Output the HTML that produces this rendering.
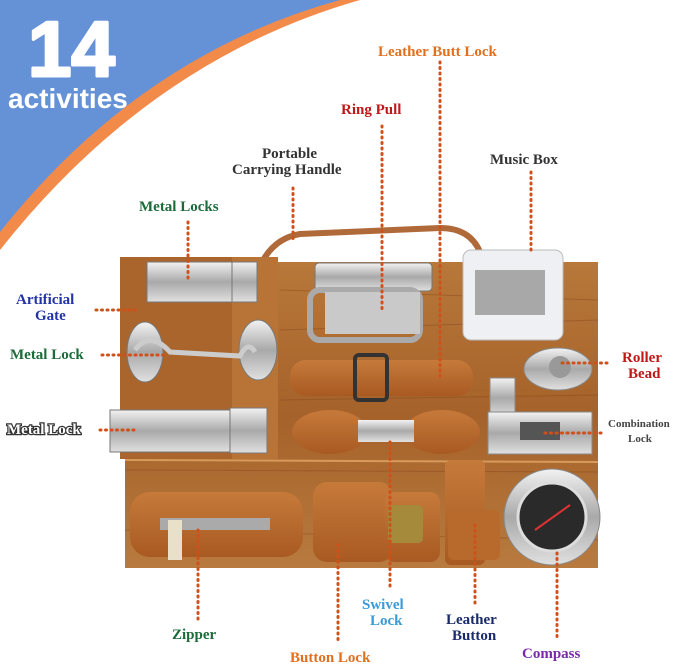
<!DOCTYPE html>
<html><head><meta charset="utf-8"><style>
html,body{margin:0;padding:0;background:#fff}
svg{display:block}
text{font-family:"Liberation Serif",serif;font-weight:bold}
</style></head><body>
<svg width="679" height="664" viewBox="0 0 679 664" xmlns="http://www.w3.org/2000/svg">
<defs>
<linearGradient id="wood" x1="0" y1="0" x2="0" y2="1">
<stop offset="0" stop-color="#b8783a"/><stop offset="0.5" stop-color="#a5622a"/><stop offset="1" stop-color="#b87a3e"/>
</linearGradient>
<linearGradient id="metal" x1="0" y1="0" x2="0" y2="1">
<stop offset="0" stop-color="#f2f2f2"/><stop offset="0.5" stop-color="#a9a9a9"/><stop offset="1" stop-color="#e0e0e0"/>
</linearGradient>
<linearGradient id="leather" x1="0" y1="0" x2="0" y2="1">
<stop offset="0" stop-color="#c67a3a"/><stop offset="1" stop-color="#a85a22"/>
</linearGradient>
</defs>
<path d="M0 0 L360 0 Q150 60 0 250 Z" fill="#f28a4a"/>
<path d="M0 0 L340 0 Q140 55 0 232 Z" fill="#6592d6"/>
<text x="28" y="76" font-size="78" fill="#fff" stroke="#fff" stroke-width="3" stroke-linejoin="round" style="font-family:'Liberation Sans',sans-serif;font-weight:bold">14</text>
<text x="8" y="108" fill="#fff" font-size="28" style="font-family:'Liberation Sans',sans-serif;font-weight:bold">activities</text>

<path d="M262 262 Q275 238 300 234 L440 228 Q470 228 480 252" fill="none" stroke="#b06a3a" stroke-width="6"/>
<rect x="125" y="262" width="473" height="306" fill="url(#wood)"/>
<g stroke="#8a4a1c" stroke-width="1" opacity="0.5">
<line x1="280" y1="290" x2="598" y2="300"/><line x1="280" y1="330" x2="598" y2="320"/>
<line x1="280" y1="400" x2="598" y2="395"/><line x1="125" y1="470" x2="598" y2="472"/>
<line x1="125" y1="530" x2="598" y2="540"/>
</g>
<rect x="120" y="257" width="158" height="202" fill="#a9652c"/>
<rect x="232" y="257" width="46" height="202" fill="#b87437"/>
<line x1="125" y1="460" x2="598" y2="462" stroke="#d89a5a" stroke-width="2"/>

<rect x="147" y="262" width="85" height="40" fill="url(#metal)" stroke="#777"/>
<rect x="232" y="262" width="25" height="40" fill="url(#metal)" stroke="#777"/>
<ellipse cx="145" cy="352" rx="18" ry="30" fill="url(#metal)" stroke="#777"/>
<ellipse cx="258" cy="350" rx="19" ry="30" fill="url(#metal)" stroke="#777"/>
<path d="M135 350 Q150 330 170 352 L240 356 Q248 340 255 352" fill="none" stroke="#ccc" stroke-width="5"/>
<rect x="110" y="410" width="120" height="42" fill="url(#metal)" stroke="#777"/>
<rect x="230" y="408" width="37" height="45" fill="url(#metal)" stroke="#777"/>
<rect x="315" y="263" width="117" height="28" rx="4" fill="url(#metal)" stroke="#777"/>
<rect x="310" y="290" width="110" height="50" rx="10" fill="none" stroke="#aaa" stroke-width="6"/>
<rect x="325" y="292" width="95" height="42" fill="#c9c9c9"/>
<rect x="463" y="250" width="100" height="90" rx="8" fill="#eef0f3" stroke="#bbb"/>
<rect x="475" y="270" width="70" height="45" fill="#a8a8a8"/>
<ellipse cx="558" cy="369" rx="34" ry="21" fill="url(#metal)" stroke="#888"/>
<circle cx="560" cy="367" r="11" fill="#999"/>
<rect x="490" y="378" width="25" height="40" fill="url(#metal)" stroke="#888"/>
<rect x="488" y="412" width="104" height="42" fill="url(#metal)" stroke="#888"/>
<rect x="520" y="422" width="40" height="18" fill="#555"/>
<circle cx="552" cy="517" r="48" fill="url(#metal)" stroke="#888"/>
<circle cx="552" cy="517" r="34" fill="#2a2a2a" stroke="#ddd" stroke-width="3"/>
<path d="M535 530 L570 505" stroke="#d33" stroke-width="2"/>

<rect x="290" y="360" width="183" height="36" rx="16" fill="url(#leather)"/>
<rect x="355" y="355" width="32" height="45" rx="4" fill="none" stroke="#333" stroke-width="4"/>
<ellipse cx="330" cy="432" rx="38" ry="22" fill="url(#leather)"/>
<ellipse cx="442" cy="432" rx="38" ry="22" fill="url(#leather)"/>
<rect x="358" y="420" width="56" height="22" fill="url(#metal)"/>
<rect x="130" y="492" width="173" height="65" rx="20" fill="url(#leather)"/>
<rect x="160" y="518" width="110" height="12" fill="#aaa"/>
<rect x="168" y="520" width="14" height="40" fill="#e8e0c8"/>
<rect x="313" y="482" width="80" height="80" rx="14" fill="url(#leather)"/>
<rect x="385" y="492" width="55" height="70" rx="10" fill="url(#leather)"/>
<rect x="388" y="505" width="35" height="38" rx="5" fill="#a48a3a"/>
<rect x="445" y="460" width="40" height="105" rx="6" fill="url(#leather)"/>
<rect x="448" y="510" width="52" height="50" rx="6" fill="#b86a2c"/>

<g stroke="#d0501a" stroke-width="3" stroke-dasharray="1 4.5" stroke-linecap="round" fill="none">
<line x1="440" y1="62" x2="440" y2="377"/>
<line x1="382" y1="126" x2="382" y2="313"/>
<line x1="293" y1="188" x2="293" y2="240"/>
<line x1="531" y1="172" x2="531" y2="253"/>
<line x1="188" y1="222" x2="188" y2="280"/>
<line x1="96" y1="310" x2="140" y2="310"/>
<line x1="102" y1="355" x2="165" y2="355"/>
<line x1="100" y1="430" x2="135" y2="430"/>
<line x1="562" y1="363" x2="610" y2="363"/>
<line x1="545" y1="433" x2="604" y2="433"/>
<line x1="198" y1="530" x2="198" y2="620"/>
<line x1="338" y1="545" x2="338" y2="640"/>
<line x1="390" y1="442" x2="390" y2="590"/>
<line x1="475" y1="525" x2="475" y2="605"/>
<line x1="557" y1="553" x2="557" y2="640"/>
</g>

<g font-size="15">
<text x="378" y="56" fill="#e07020">Leather Butt Lock</text>
<text x="341" y="114" fill="#c01818">Ring Pull</text>
<text x="262" y="158" fill="#333">Portable</text>
<text x="232" y="174" fill="#333">Carrying Handle</text>
<text x="490" y="164" fill="#333">Music Box</text>
<text x="139" y="211" fill="#1d6b3a">Metal Locks</text>
<text x="16" y="304" fill="#2233aa">Artificial</text>
<text x="35" y="320" fill="#2233aa">Gate</text>
<text x="10" y="359" fill="#1d6b3a">Metal Lock</text>
<text x="7" y="434" fill="#fff" stroke="#333" stroke-width="2.5" paint-order="stroke">Metal Lock</text>
<text x="622" y="362" fill="#c01818">Roller</text>
<text x="628" y="378" fill="#c01818">Bead</text>
<text x="172" y="639" fill="#1d6b3a">Zipper</text>
<text x="290" y="662" fill="#e07020">Button Lock</text>
<text x="362" y="609" fill="#3a9ad6">Swivel</text>
<text x="370" y="625" fill="#3a9ad6">Lock</text>
<text x="446" y="624" fill="#1a2a6a">Leather</text>
<text x="452" y="640" fill="#1a2a6a">Button</text>
<text x="522" y="658" fill="#7a2aa8">Compass</text>
</g>
<text x="608" y="427" font-size="11" fill="#444">Combination</text>
<text x="628" y="442" font-size="11" fill="#444">Lock</text>
</svg>
</body></html>
